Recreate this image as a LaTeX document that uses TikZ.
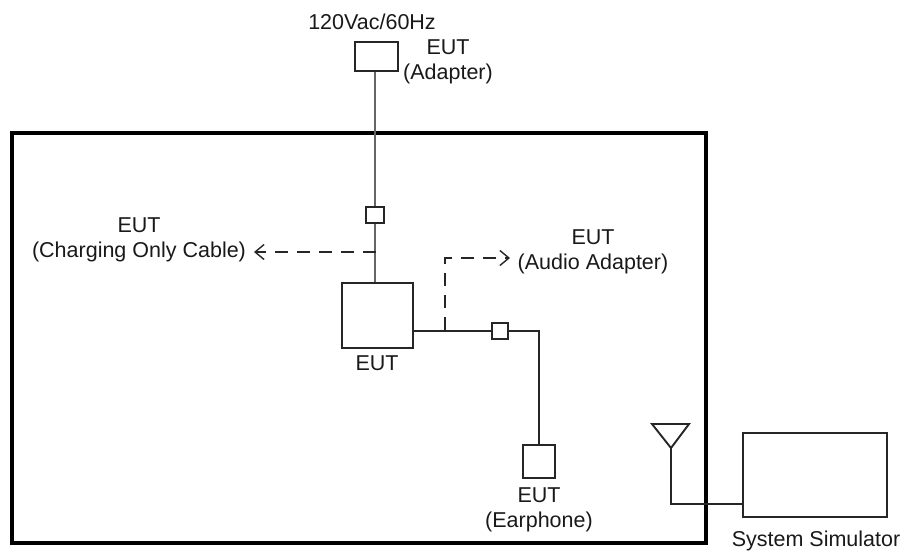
\documentclass[tikz,border=0pt]{standalone}
\usepackage{fontspec}
\setmainfont{Liberation Sans}
\usetikzlibrary{arrows.meta}
\begin{document}
\begin{tikzpicture}[x=1pt,y=-1pt,
  lbl/.style={inner sep=0pt, align=center, text=black!90, font=\fontsize{21.5}{25}\selectfont},
  wire/.style={line width=1.9pt, draw=black!85},
  graywire/.style={line width=2pt, draw=black!60},
  boxed/.style={draw=black!85, line width=1.9pt, inner sep=0pt, fill=white},
  dashline/.style={line width=1.7pt, dash pattern=on 13pt off 9pt, draw=black!85},
  tipopen/.style={-{Straight Barb[length=9pt,width=15pt,line width=1.4pt]}}
]
\useasboundingbox (0,0) rectangle (908,554);
% enclosure
\draw[line width=4.5pt, line join=miter] (12,133) rectangle (706,543);

% nodes
\node[boxed, minimum width=43pt, minimum height=29pt] (adapter) at (376.5,56.5) {};
\node[boxed, minimum width=18pt, minimum height=16pt] (conn1) at (375,215) {};
\node[boxed, minimum width=71pt, minimum height=65pt] (eut) at (377.5,315.5) {};
\node[boxed, minimum width=16pt, minimum height=16pt] (conn2) at (500,331) {};
\node[boxed, minimum width=32pt, minimum height=33pt] (ear) at (539,461.5) {};
\node[boxed, minimum width=144pt, minimum height=84pt] (sim) at (815,475) {};

% labels
\node[lbl] (tvac) at (372,22) {120Vac/60Hz};
\node[lbl] (tadapter) at (448,62) {EUT\\(Adapter)};
\node[lbl] (tcharge) at (139,240) {EUT\\(Charging Only Cable)};
\node[lbl] (taudio) at (593,252) {EUT\\(Audio Adapter)};
\node[lbl] (teut) at (377,363) {EUT};
\node[lbl] (tear) at (539,510) {EUT\\(Earphone)};
\node[lbl] (tsim) at (816,541) {System Simulator};

% adapter cable
\draw[graywire] (adapter.south -| conn1) -- (conn1.north);
\draw[graywire] (conn1.south) -- (conn1.south |- eut.north);

% charging only cable dashed arrow
\coordinate (chg0) at (376,252);
\coordinate (chgtip) at (254,252);
\draw[dashline, tipopen] (chg0) -- (chgtip);

% earphone cable
\draw[wire] (eut.east |- conn2) -- (conn2.west);
\draw[wire] (conn2.east) -| (ear.north);

% audio adapter dashed arrow
\coordinate (aud0) at (445,330);
\coordinate (audtip) at (510,258);
\draw[dashline, tipopen] (aud0) |- (audtip);

% antenna
\coordinate (antL) at (652,424);
\coordinate (antR) at (689,424);
\coordinate (antA) at (671,448);
\draw[wire, line join=miter] (antL) -- (antR) -- (antA) -- cycle;
\draw[wire] (antA) |- (sim.west |- 0,504);
\end{tikzpicture}
\end{document}
